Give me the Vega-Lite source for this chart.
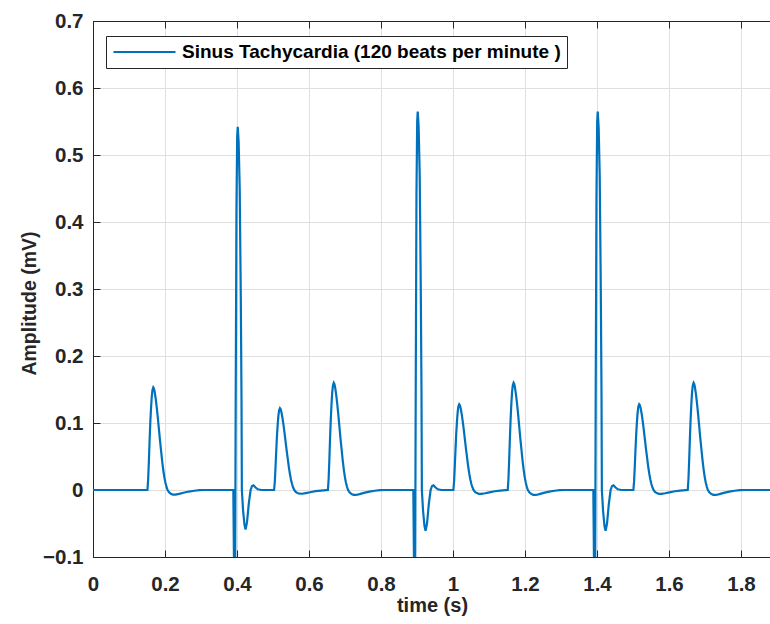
{
  "$schema": "https://vega.github.io/schema/vega-lite/v6.json",
  "width": 678,
  "height": 536,
  "autosize": {"type": "none"},
  "padding": {"left": 93, "top": 21, "right": 0, "bottom": 67},
  "background": "white",
  "data": {"values": [
    {"time": 0, "mV": 0},
    {"time": 0.1512, "mV": 0}, {"time": 0.1532, "mV": 0.0153}, {"time": 0.1552, "mV": 0.0428}, {"time": 0.1572, "mV": 0.0734}, {"time": 0.1592, "mV": 0.101}, {"time": 0.1612, "mV": 0.1224}, {"time": 0.1632, "mV": 0.1392}, {"time": 0.1652, "mV": 0.1492}, {"time": 0.1675, "mV": 0.153}, {"time": 0.1692, "mV": 0.1515}, {"time": 0.1712, "mV": 0.1469}, {"time": 0.1742, "mV": 0.1362}, {"time": 0.1772, "mV": 0.1224}, {"time": 0.1802, "mV": 0.1071}, {"time": 0.1832, "mV": 0.0903}, {"time": 0.1862, "mV": 0.0734}, {"time": 0.1892, "mV": 0.0581}, {"time": 0.1922, "mV": 0.0428}, {"time": 0.1952, "mV": 0.0298}, {"time": 0.1982, "mV": 0.0191}, {"time": 0.2012, "mV": 0.0107}, {"time": 0.2042, "mV": 0.0046}, {"time": 0.2072, "mV": 0}, {"time": 0.2112, "mV": -0.0034}, {"time": 0.2162, "mV": -0.0055}, {"time": 0.2222, "mV": -0.0069}, {"time": 0.2292, "mV": -0.007}, {"time": 0.2392, "mV": -0.0058}, {"time": 0.2512, "mV": -0.0041}, {"time": 0.2662, "mV": -0.0023}, {"time": 0.2812, "mV": -0.0011}, {"time": 0.2962, "mV": -0.0003}, {"time": 0.3112, "mV": 0},
    {"time": 0.3898, "mV": 0}, {"time": 0.3915, "mV": -0.1}, {"time": 0.393, "mV": -0.25}, {"time": 0.395, "mV": -0.1}, {"time": 0.3964, "mV": 0.136}, {"time": 0.3985, "mV": 0.42}, {"time": 0.4005, "mV": 0.528}, {"time": 0.402, "mV": 0.542}, {"time": 0.4045, "mV": 0.52}, {"time": 0.4075, "mV": 0.45}, {"time": 0.4105, "mV": 0.29}, {"time": 0.4125, "mV": 0.136}, {"time": 0.4135, "mV": 0}, {"time": 0.4168, "mV": -0.03}, {"time": 0.4208, "mV": -0.052}, {"time": 0.4238, "mV": -0.059}, {"time": 0.4278, "mV": -0.048}, {"time": 0.4328, "mV": -0.02}, {"time": 0.4378, "mV": 0}, {"time": 0.4418, "mV": 0.006}, {"time": 0.4458, "mV": 0.007}, {"time": 0.4508, "mV": 0.004}, {"time": 0.4578, "mV": 0.001}, {"time": 0.4678, "mV": 0},
    {"time": 0.503, "mV": 0}, {"time": 0.505, "mV": 0.0122}, {"time": 0.507, "mV": 0.0342}, {"time": 0.509, "mV": 0.0586}, {"time": 0.511, "mV": 0.0805}, {"time": 0.513, "mV": 0.0976}, {"time": 0.515, "mV": 0.111}, {"time": 0.517, "mV": 0.119}, {"time": 0.5193, "mV": 0.122}, {"time": 0.521, "mV": 0.1208}, {"time": 0.523, "mV": 0.1171}, {"time": 0.526, "mV": 0.1086}, {"time": 0.529, "mV": 0.0976}, {"time": 0.532, "mV": 0.0854}, {"time": 0.535, "mV": 0.072}, {"time": 0.538, "mV": 0.0586}, {"time": 0.541, "mV": 0.0464}, {"time": 0.544, "mV": 0.0342}, {"time": 0.547, "mV": 0.0238}, {"time": 0.55, "mV": 0.0153}, {"time": 0.553, "mV": 0.0085}, {"time": 0.556, "mV": 0.0037}, {"time": 0.559, "mV": 0}, {"time": 0.563, "mV": -0.0027}, {"time": 0.568, "mV": -0.0044}, {"time": 0.574, "mV": -0.0055}, {"time": 0.581, "mV": -0.0056}, {"time": 0.591, "mV": -0.0046}, {"time": 0.603, "mV": -0.0033}, {"time": 0.618, "mV": -0.0018}, {"time": 0.633, "mV": -0.0009}, {"time": 0.648, "mV": -0.0002},
    {"time": 0.6525, "mV": 0}, {"time": 0.6545, "mV": 0.016}, {"time": 0.6565, "mV": 0.0448}, {"time": 0.6585, "mV": 0.0768}, {"time": 0.6605, "mV": 0.1056}, {"time": 0.6625, "mV": 0.128}, {"time": 0.6645, "mV": 0.1456}, {"time": 0.6665, "mV": 0.156}, {"time": 0.6688, "mV": 0.16}, {"time": 0.6705, "mV": 0.1584}, {"time": 0.6725, "mV": 0.1536}, {"time": 0.6755, "mV": 0.1424}, {"time": 0.6785, "mV": 0.128}, {"time": 0.6815, "mV": 0.112}, {"time": 0.6845, "mV": 0.0944}, {"time": 0.6875, "mV": 0.0768}, {"time": 0.6905, "mV": 0.0608}, {"time": 0.6935, "mV": 0.0448}, {"time": 0.6965, "mV": 0.0312}, {"time": 0.6995, "mV": 0.02}, {"time": 0.7025, "mV": 0.0112}, {"time": 0.7055, "mV": 0.0048}, {"time": 0.7085, "mV": 0}, {"time": 0.7125, "mV": -0.0035}, {"time": 0.7175, "mV": -0.0058}, {"time": 0.7235, "mV": -0.0072}, {"time": 0.7305, "mV": -0.0074}, {"time": 0.7405, "mV": -0.0061}, {"time": 0.7525, "mV": -0.0043}, {"time": 0.7675, "mV": -0.0024}, {"time": 0.7825, "mV": -0.0011}, {"time": 0.7975, "mV": -0.0003}, {"time": 0.8125, "mV": 0},
    {"time": 0.8898, "mV": 0}, {"time": 0.8915, "mV": -0.1}, {"time": 0.893, "mV": -0.25}, {"time": 0.895, "mV": -0.1}, {"time": 0.8964, "mV": 0.142}, {"time": 0.8985, "mV": 0.44}, {"time": 0.9005, "mV": 0.55}, {"time": 0.902, "mV": 0.565}, {"time": 0.9045, "mV": 0.542}, {"time": 0.9075, "mV": 0.47}, {"time": 0.9105, "mV": 0.3}, {"time": 0.9125, "mV": 0.142}, {"time": 0.9135, "mV": 0}, {"time": 0.9168, "mV": -0.031}, {"time": 0.9208, "mV": -0.054}, {"time": 0.9238, "mV": -0.061}, {"time": 0.9278, "mV": -0.05}, {"time": 0.9328, "mV": -0.021}, {"time": 0.9378, "mV": 0}, {"time": 0.9418, "mV": 0.006}, {"time": 0.9458, "mV": 0.007}, {"time": 0.9508, "mV": 0.004}, {"time": 0.9578, "mV": 0.001}, {"time": 0.9678, "mV": 0},
    {"time": 1.001, "mV": 0}, {"time": 1.003, "mV": 0.0128}, {"time": 1.005, "mV": 0.0358}, {"time": 1.007, "mV": 0.0614}, {"time": 1.009, "mV": 0.0845}, {"time": 1.011, "mV": 0.1024}, {"time": 1.013, "mV": 0.1165}, {"time": 1.015, "mV": 0.1248}, {"time": 1.0173, "mV": 0.128}, {"time": 1.019, "mV": 0.1267}, {"time": 1.021, "mV": 0.1229}, {"time": 1.024, "mV": 0.1139}, {"time": 1.027, "mV": 0.1024}, {"time": 1.03, "mV": 0.0896}, {"time": 1.033, "mV": 0.0755}, {"time": 1.036, "mV": 0.0614}, {"time": 1.039, "mV": 0.0486}, {"time": 1.042, "mV": 0.0358}, {"time": 1.045, "mV": 0.025}, {"time": 1.048, "mV": 0.016}, {"time": 1.051, "mV": 0.009}, {"time": 1.054, "mV": 0.0038}, {"time": 1.057, "mV": 0}, {"time": 1.061, "mV": -0.0028}, {"time": 1.066, "mV": -0.0046}, {"time": 1.072, "mV": -0.0058}, {"time": 1.079, "mV": -0.0059}, {"time": 1.089, "mV": -0.0049}, {"time": 1.101, "mV": -0.0035}, {"time": 1.116, "mV": -0.0019}, {"time": 1.131, "mV": -0.0009}, {"time": 1.146, "mV": -0.0003},
    {"time": 1.152, "mV": 0}, {"time": 1.154, "mV": 0.016}, {"time": 1.156, "mV": 0.0448}, {"time": 1.158, "mV": 0.0768}, {"time": 1.16, "mV": 0.1056}, {"time": 1.162, "mV": 0.128}, {"time": 1.164, "mV": 0.1456}, {"time": 1.166, "mV": 0.156}, {"time": 1.1683, "mV": 0.16}, {"time": 1.17, "mV": 0.1584}, {"time": 1.172, "mV": 0.1536}, {"time": 1.175, "mV": 0.1424}, {"time": 1.178, "mV": 0.128}, {"time": 1.181, "mV": 0.112}, {"time": 1.184, "mV": 0.0944}, {"time": 1.187, "mV": 0.0768}, {"time": 1.19, "mV": 0.0608}, {"time": 1.193, "mV": 0.0448}, {"time": 1.196, "mV": 0.0312}, {"time": 1.199, "mV": 0.02}, {"time": 1.202, "mV": 0.0112}, {"time": 1.205, "mV": 0.0048}, {"time": 1.208, "mV": 0}, {"time": 1.212, "mV": -0.0035}, {"time": 1.217, "mV": -0.0058}, {"time": 1.223, "mV": -0.0072}, {"time": 1.23, "mV": -0.0074}, {"time": 1.24, "mV": -0.0061}, {"time": 1.252, "mV": -0.0043}, {"time": 1.267, "mV": -0.0024}, {"time": 1.282, "mV": -0.0011}, {"time": 1.297, "mV": -0.0003}, {"time": 1.312, "mV": 0},
    {"time": 1.3898, "mV": 0}, {"time": 1.3915, "mV": -0.1}, {"time": 1.393, "mV": -0.25}, {"time": 1.395, "mV": -0.1}, {"time": 1.3964, "mV": 0.142}, {"time": 1.3985, "mV": 0.44}, {"time": 1.4005, "mV": 0.55}, {"time": 1.402, "mV": 0.565}, {"time": 1.4045, "mV": 0.542}, {"time": 1.4075, "mV": 0.47}, {"time": 1.4105, "mV": 0.3}, {"time": 1.4125, "mV": 0.142}, {"time": 1.4135, "mV": 0}, {"time": 1.4168, "mV": -0.031}, {"time": 1.4208, "mV": -0.054}, {"time": 1.4238, "mV": -0.061}, {"time": 1.4278, "mV": -0.05}, {"time": 1.4328, "mV": -0.021}, {"time": 1.4378, "mV": 0}, {"time": 1.4418, "mV": 0.006}, {"time": 1.4458, "mV": 0.007}, {"time": 1.4508, "mV": 0.004}, {"time": 1.4578, "mV": 0.001}, {"time": 1.4678, "mV": 0},
    {"time": 1.501, "mV": 0}, {"time": 1.503, "mV": 0.0128}, {"time": 1.505, "mV": 0.0358}, {"time": 1.507, "mV": 0.0614}, {"time": 1.509, "mV": 0.0845}, {"time": 1.511, "mV": 0.1024}, {"time": 1.513, "mV": 0.1165}, {"time": 1.515, "mV": 0.1248}, {"time": 1.5173, "mV": 0.128}, {"time": 1.519, "mV": 0.1267}, {"time": 1.521, "mV": 0.1229}, {"time": 1.524, "mV": 0.1139}, {"time": 1.527, "mV": 0.1024}, {"time": 1.53, "mV": 0.0896}, {"time": 1.533, "mV": 0.0755}, {"time": 1.536, "mV": 0.0614}, {"time": 1.539, "mV": 0.0486}, {"time": 1.542, "mV": 0.0358}, {"time": 1.545, "mV": 0.025}, {"time": 1.548, "mV": 0.016}, {"time": 1.551, "mV": 0.009}, {"time": 1.554, "mV": 0.0038}, {"time": 1.557, "mV": 0}, {"time": 1.561, "mV": -0.0028}, {"time": 1.566, "mV": -0.0046}, {"time": 1.572, "mV": -0.0058}, {"time": 1.579, "mV": -0.0059}, {"time": 1.589, "mV": -0.0049}, {"time": 1.601, "mV": -0.0035}, {"time": 1.616, "mV": -0.0019}, {"time": 1.631, "mV": -0.0009}, {"time": 1.646, "mV": -0.0003},
    {"time": 1.652, "mV": 0}, {"time": 1.654, "mV": 0.016}, {"time": 1.656, "mV": 0.0448}, {"time": 1.658, "mV": 0.0768}, {"time": 1.66, "mV": 0.1056}, {"time": 1.662, "mV": 0.128}, {"time": 1.664, "mV": 0.1456}, {"time": 1.666, "mV": 0.156}, {"time": 1.6683, "mV": 0.16}, {"time": 1.67, "mV": 0.1584}, {"time": 1.672, "mV": 0.1536}, {"time": 1.675, "mV": 0.1424}, {"time": 1.678, "mV": 0.128}, {"time": 1.681, "mV": 0.112}, {"time": 1.684, "mV": 0.0944}, {"time": 1.687, "mV": 0.0768}, {"time": 1.69, "mV": 0.0608}, {"time": 1.693, "mV": 0.0448}, {"time": 1.696, "mV": 0.0312}, {"time": 1.699, "mV": 0.02}, {"time": 1.702, "mV": 0.0112}, {"time": 1.705, "mV": 0.0048}, {"time": 1.708, "mV": 0}, {"time": 1.712, "mV": -0.0035}, {"time": 1.717, "mV": -0.0058}, {"time": 1.723, "mV": -0.0072}, {"time": 1.73, "mV": -0.0074}, {"time": 1.74, "mV": -0.0061}, {"time": 1.752, "mV": -0.0043}, {"time": 1.767, "mV": -0.0024}, {"time": 1.782, "mV": -0.0011}, {"time": 1.797, "mV": -0.0003}, {"time": 1.812, "mV": 0},
    {"time": 1.8833, "mV": 0}
  ]},
  "layer": [
    {
      "mark": {"type": "line", "clip": true, "strokeWidth": 2.2, "interpolate": "linear"},
      "encoding": {
        "x": {"field": "time", "type": "quantitative",
              "scale": {"domain": [0, 1.8833], "nice": false, "zero": false},
              "axis": {"orient": "bottom", "title": "time (s)", "values": [0, 0.2, 0.4, 0.6, 0.8, 1, 1.2, 1.4, 1.6, 1.8], "format": "~g",
                       "tickSize": -7, "labelPadding": 24, "titlePadding": 1}},
        "y": {"field": "mV", "type": "quantitative",
              "scale": {"domain": [-0.1, 0.7], "nice": false, "zero": false},
              "axis": {"title": "Amplitude (mV)", "values": [-0.1, 0, 0.1, 0.2, 0.3, 0.4, 0.5, 0.6, 0.7], "format": "~g",
                       "tickSize": -7, "labelPadding": 17, "titlePadding": 3, "titleY": 282, "titleFontSize": 19.5}},
        "color": {"datum": "Sinus Tachycardia (120 beats per minute )", "type": "nominal",
                  "scale": {"range": ["#0072BD"]},
                  "legend": {"title": null, "orient": "none", "legendX": 13, "legendY": 15,
                             "symbolType": "stroke", "symbolSize": 3844, "symbolStrokeWidth": 2.2, "clipHeight": 20,
                             "labelFont": "Liberation Sans", "labelFontWeight": "bold", "labelFontSize": 19,
                             "labelColor": "#000000", "labelOffset": 5, "labelLimit": 600,
                             "strokeColor": "#262626", "fillColor": "white", "padding": 6, "symbolOffset": 0}}
      }
    },
    {
      "mark": {"type": "point", "opacity": 0},
      "encoding": {
        "x": {"field": "time", "type": "quantitative",
              "axis": {"orient": "top", "title": null, "labels": false, "grid": false, "values": [0, 0.2, 0.4, 0.6, 0.8, 1, 1.2, 1.4, 1.6, 1.8], "tickSize": -7}}
      }
    }
  ],
  "resolve": {"axis": {"x": "independent"}},
  "config": {
    "view": {"stroke": "#262626", "strokeWidth": 1},
    "axis": {
      "grid": true, "gridColor": "#dfdfdf", "gridWidth": 1,
      "domainColor": "#262626", "domainWidth": 1, "tickColor": "#262626", "tickWidth": 1,
      "labelFont": "Liberation Sans", "labelFontWeight": "bold", "labelFontSize": 20.5, "labelColor": "#262626",
      "labelFlush": false, "labelOverlap": false,
      "titleFont": "Liberation Sans", "titleFontWeight": "bold", "titleFontSize": 20, "titleColor": "#262626"
    }
  }
}
